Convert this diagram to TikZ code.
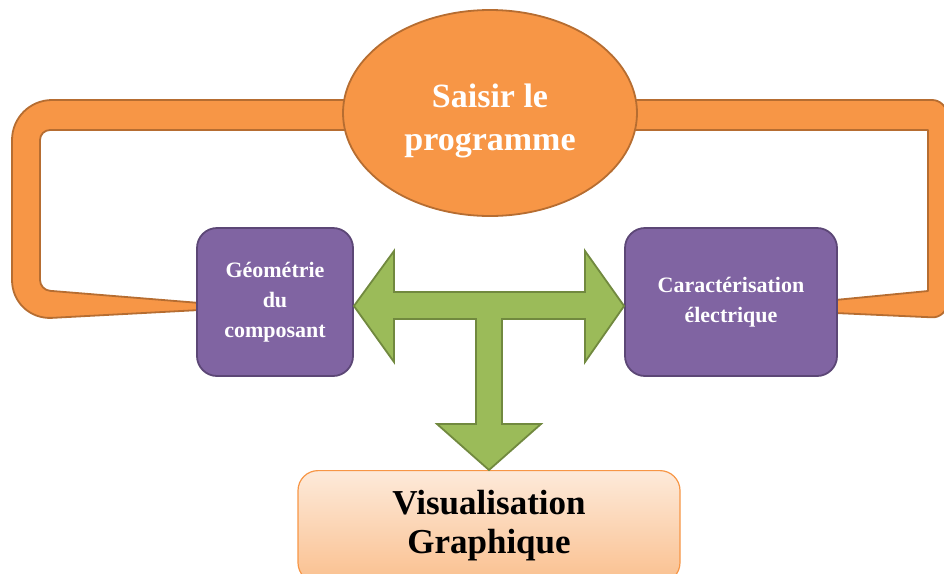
\documentclass[tikz,border=0pt]{standalone}
\usepackage{fontspec}
\setmainfont{Liberation Serif}
\usetikzlibrary{shapes.geometric}
\definecolor{orgfill}{HTML}{F79646}
\definecolor{orgline}{HTML}{B66D31}
\definecolor{purfill}{HTML}{8064A2}
\definecolor{purline}{HTML}{5C4776}
\definecolor{grnfill}{HTML}{9BBB59}
\definecolor{grnline}{HTML}{71893F}
\definecolor{peachtop}{HTML}{FDEADA}
\definecolor{peachbot}{HTML}{FAC08F}
\tikzset{
  band/.style={fill=orgfill, draw=orgline, line width=1.8pt, line join=round},
  purbox/.style={rectangle, rounded corners=20pt, fill=purfill, draw=purline, line width=1.8pt,
    text=white, align=center, font=\bfseries\fontsize{22}{30}\selectfont, inner sep=0pt},
  bigarrow/.style={fill=grnfill, draw=grnline, line width=1.8pt, line join=miter},
}
\begin{document}
\begin{tikzpicture}[x=1pt,y=-1pt]
\useasboundingbox (0,0) rectangle (944,573);
% orange loop, left half
\draw[band] (360,100) [rounded corners=40] -- (12,100) -- (12,320) [rounded corners=0] -- (200,310) -- (200,303) [rounded corners=10] -- (40,290) -- (40,130) [rounded corners=0] -- (360,130) -- cycle;
% orange loop, right half
\draw[band] (620,100) [rounded corners=15] -- (947,100) -- (947,318) [rounded corners=0] -- (835,313) -- (835,300) -- (928,291) -- (928,130) -- (620,130) -- cycle;
% ellipse
\node (saisir) [ellipse, minimum width=294pt, minimum height=206pt, inner sep=0pt, fill=orgfill, draw=orgline, line width=1.8pt] at (490,113) {};
\node (saisirtxt) [text=white, align=center, font=\bfseries\fontsize{34}{43}\selectfont] at (490,121) {Saisir le\\programme};
% purple boxes
\node (geo) [purbox, minimum width=156pt, minimum height=148pt] at (275,302) {Géométrie\\du\\composant};
\node (car) [purbox, minimum width=212pt, minimum height=148pt] at (731,302) {Caractérisation\\électrique};
% bottom box
\node (visu) [rectangle, rounded corners=20pt, top color=peachtop, bottom color=peachbot, draw=orgfill, line width=1.2pt,
  minimum width=382pt, minimum height=112pt, inner sep=0pt, anchor=north] at (489,470) {};
\node (visutxt) at (489,526) [align=center, font=\bfseries\fontsize{35}{39}\selectfont] {Visualisation\\Graphique};
% green T arrow
\coordinate (lt) at (geo.east |- 0,306);
\coordinate (rt) at (car.west |- 0,306);
\coordinate (dt) at (visu.north);
\draw[bigarrow] (lt) -- (394,251) -- (394,292) -- (585,292) -- (585,251) -- (rt) -- (585,362) -- (585,319)
  -- (502,319) -- (502,424) -- (541,424) -- (dt) -- (437,424) -- (476,424) -- (476,319) -- (394,319) -- (394,362) -- cycle;
\end{tikzpicture}
\end{document}
